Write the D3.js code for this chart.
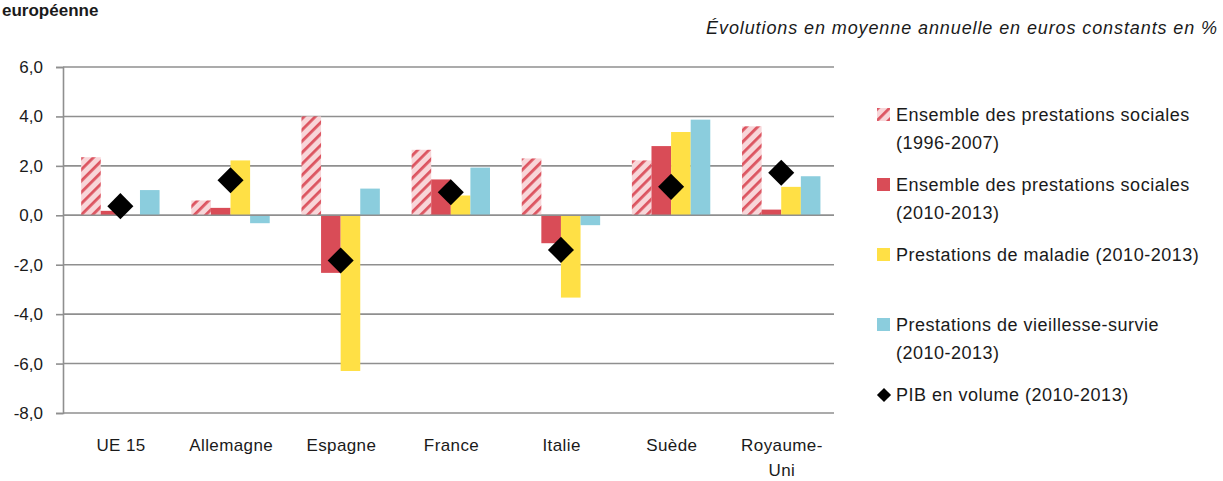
<!DOCTYPE html>
<html><head><meta charset="utf-8">
<script src="https://cdn.jsdelivr.net/npm/d3@7"></script>
<style>
html,body{margin:0;padding:0;background:#fff;}
svg{display:block;}
text{font-family:"Liberation Sans Narrow","Arial Narrow","Liberation Sans",sans-serif;fill:#1a1a1a;}
</style></head><body>
<svg id="chart" width="1223" height="481"></svg>
<script>
const categories = ["UE 15","Allemagne","Espagne","France","Italie","Suède","Royaume-Uni"];
const seriesNames = [
  "Ensemble des prestations sociales (1996-2007)",
  "Ensemble des prestations sociales (2010-2013)",
  "Prestations de maladie (2010-2013)",
  "Prestations de vieillesse-survie (2010-2013)"
];
const ensemble9607 = [2.35, 0.6, 4.0, 2.65, 2.3, 2.22, 3.6];
const ensemble1013 = [0.18, 0.3, -2.33, 1.45, -1.13, 2.8, 0.23];
const maladie1013  = [0.0, 2.22, -6.3, 0.8, -3.33, 3.37, 1.15];
const vieillesse1013 = [1.02, -0.32, 1.08, 1.93, -0.4, 3.87, 1.58];
const pib1013 = [0.37, 1.42, -1.83, 0.93, -1.4, 1.15, 1.72];
const pibName = "PIB en volume (2010-2013)";
const yTicks = [-8,-6,-4,-2,0,2,4,6];
const legendLines = [
  ["Ensemble des prestations sociales","(1996-2007)"],
  ["Ensemble des prestations sociales","(2010-2013)"],
  ["Prestations de maladie (2010-2013)"],
  ["Prestations de vieillesse-survie","(2010-2013)"],
  ["PIB en volume (2010-2013)"]
];
const catLines = [["UE 15"],["Allemagne"],["Espagne"],["France"],["Italie"],["Suède"],["Royaume-","Uni"]];

const seriesValues = [ensemble9607, ensemble1013, maladie1013, vieillesse1013];
const fills = ["url(#stripes)", "#D94C57", "#FFE045", "#8BCDDD"];

const svg = d3.select("#chart");
const defs = svg.append("defs");
const pat = defs.append("pattern").attr("id","stripes").attr("patternUnits","userSpaceOnUse")
  .attr("width",8).attr("height",8).attr("patternTransform","rotate(45)");
pat.append("rect").attr("width",8).attr("height",8).attr("fill","#F8D6D9");
pat.append("rect").attr("x",0).attr("width",2.8).attr("height",8).attr("fill","#DC5460");

const x = d3.scaleBand().domain(categories).range([64, 835]).padding(0);
const y = d3.scaleLinear().domain([-8, 6]).range([413, 67]);
const sub = d3.scaleBand().domain(d3.range(4)).range([0, 78.4]);

// title & subtitle
svg.append("text").attr("x",2).attr("y",16)
  .style("font-family","'Liberation Sans',Arial,sans-serif").style("font-weight","bold").style("font-size","17px")
  .text("européenne");
svg.append("text").attr("x",1218).attr("y",34).attr("text-anchor","end")
  .style("font-style","italic").style("font-size","18px").style("letter-spacing","0.9px")
  .text("Évolutions en moyenne annuelle en euros constants en %");

// gridlines
svg.append("g").selectAll("line").data(yTicks).join("line")
  .attr("x1",63).attr("x2",834).attr("y1",d=>y(d)).attr("y2",d=>y(d))
  .attr("stroke","#8f8f8f").attr("stroke-width",1.6);

// y axis
const yAxis = svg.append("g").attr("transform","translate(63,0)")
  .call(d3.axisLeft(y).tickValues(yTicks).tickSize(7).tickPadding(13)
    .tickFormat(d=>d3.format(".1f")(d).replace(".",",").replace("−","-")));
yAxis.select(".domain").attr("stroke","#8f8f8f").attr("stroke-width",1.6);
yAxis.selectAll(".tick line").attr("stroke","#8f8f8f").attr("stroke-width",1.6);
yAxis.selectAll(".tick text").style("font-size","17px").style("font-family","'Liberation Sans Narrow','Arial Narrow','Liberation Sans',sans-serif").attr("fill","#1a1a1a");

// bars
const gBars = svg.append("g");
categories.forEach((c,i)=>{
  const off = x(c) + x.bandwidth()/2 - 78.4/2 + 1.3;
  seriesValues.forEach((vals,s)=>{
    const v = vals[i];
    gBars.append("rect")
      .attr("x", off + sub(s)).attr("width", sub.bandwidth())
      .attr("y", y(Math.max(0,v))).attr("height", Math.abs(y(v)-y(0)))
      .attr("fill", fills[s]);
  });
});

// zero line on top
svg.append("line").attr("x1",63).attr("x2",834).attr("y1",y(0)).attr("y2",y(0))
  .attr("stroke","#8f8f8f").attr("stroke-width",1.6);

// diamonds
const diamond = d3.symbol().type(d3.symbolSquare).size(340);
svg.append("g").selectAll("path").data(pib1013).join("path")
  .attr("d", diamond)
  .attr("transform",(d,i)=>`translate(${x(categories[i])+x.bandwidth()/2+1.3},${y(d)}) rotate(45)`)
  .attr("fill","#000");

// category labels
const cl = svg.append("g");
categories.forEach((c,i)=>{
  const t = cl.append("text").attr("x", x(c)+x.bandwidth()/2+2).attr("y",451)
    .attr("text-anchor","middle").style("font-size","17px").style("letter-spacing","0.4px");
  catLines[i].forEach((ln,j)=>t.append("tspan").attr("x",x(c)+x.bandwidth()/2+2).attr("dy", j?25:0).text(ln));
});

// legend
const legY = [115, 185, 255, 325, 395];
const leg = svg.append("g");
legendLines.forEach((lines,i)=>{
  if (i < 4) {
    leg.append("rect").attr("x",877).attr("y",legY[i]-7).attr("width",13).attr("height",13)
      .attr("fill", fills[i]);
  } else {
    leg.append("path").attr("d", d3.symbol().type(d3.symbolSquare).size(100))
      .attr("transform",`translate(884,${legY[i]}) rotate(45)`).attr("fill","#000");
  }
  const t = leg.append("text").attr("x",896).attr("y",legY[i]+6)
    .style("font-size","18px").style("letter-spacing","0.5px");
  lines.forEach((ln,j)=>t.append("tspan").attr("x",896).attr("dy", j?28:0).text(ln));
});
</script>
</body></html>
